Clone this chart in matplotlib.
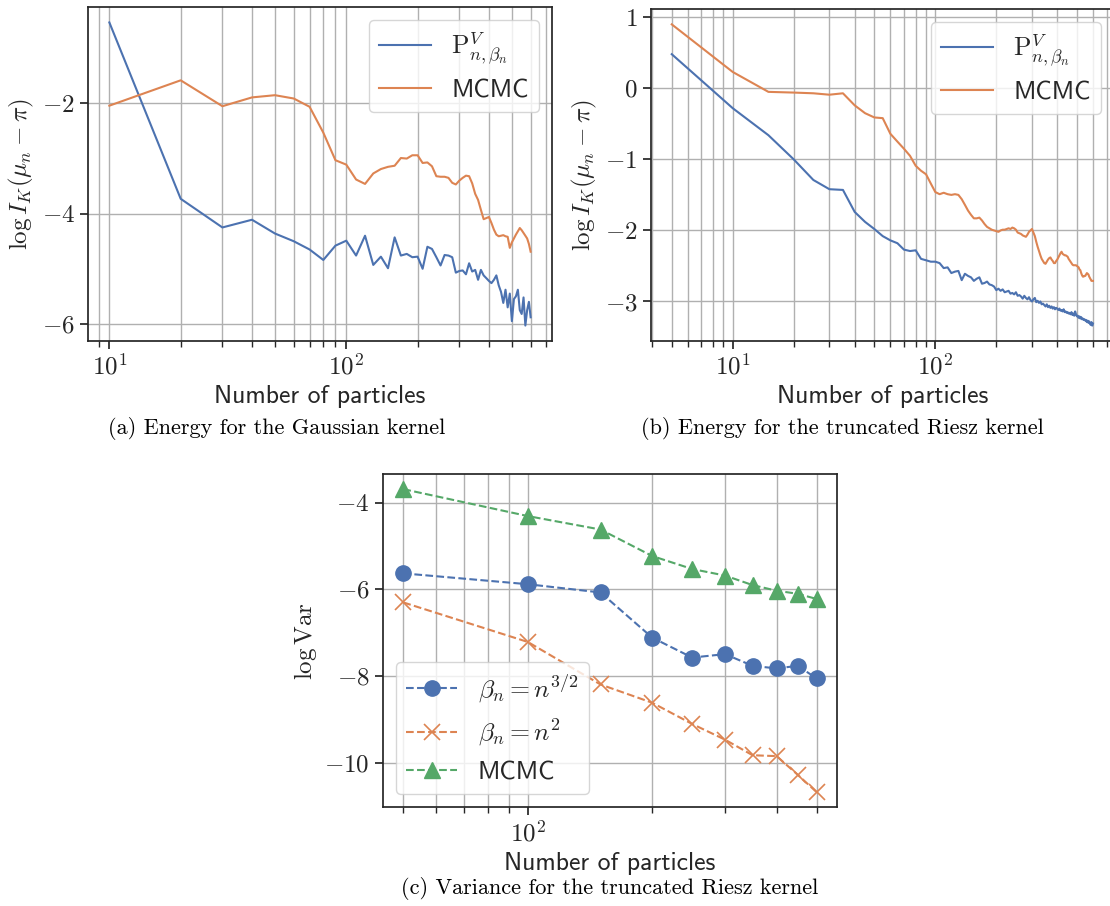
import matplotlib
matplotlib.use("Agg")
import matplotlib.pyplot as plt
from matplotlib.ticker import MultipleLocator, NullFormatter

# ---------------- data ----------------
# (a) Gaussian kernel
n_gauss = list(range(10, 601, 10))
gauss_pv = [-0.53, -3.73, -4.25, -4.11, -4.36, -4.50, -4.65, -4.84, -4.58, -4.49,
            -4.76, -4.40, -4.93, -4.78, -4.99, -4.43, -4.76, -4.73, -4.79, -4.78,
            -5.00, -4.60, -4.64, -4.79, -4.94, -4.75, -4.76, -4.79, -5.07, -5.04,
            -5.03, -5.10, -4.90, -5.05, -5.02, -5.20, -5.02, -5.12, -5.17, -5.22,
            -5.26, -5.20, -5.12, -5.30, -5.42, -5.62, -5.38, -5.70, -5.45, -5.95,
            -5.55, -5.50, -5.38, -5.75, -5.82, -5.52, -6.03, -5.75, -5.60, -5.88]
gauss_mcmc = [-2.04, -1.58, -2.05, -1.89, -1.85, -1.91, -2.06, -2.53, -3.03, -3.11,
              -3.38, -3.46, -3.27, -3.19, -3.15, -3.13, -2.99, -3.00, -2.94, -2.94,
              -3.08, -3.07, -3.14, -3.32, -3.33, -3.33, -3.35, -3.44, -3.47, -3.40,
              -3.35, -3.31, -3.32, -3.45, -3.64, -3.75, -3.93, -4.10, -4.08, -4.06,
              -4.17, -4.29, -4.38, -4.41, -4.40, -4.39, -4.41, -4.42, -4.62, -4.52,
              -4.45, -4.38, -4.32, -4.26, -4.30, -4.35, -4.40, -4.45, -4.55, -4.69]

# (b) truncated Riesz kernel
n_riesz = list(range(5, 601, 5))
riesz_pv = [0.48, -0.28, -0.66, -1.00, -1.29, -1.42, -1.43, -1.74, -1.88, -1.98,
            -2.08, -2.14, -2.18, -2.27, -2.29, -2.28, -2.40, -2.42, -2.44, -2.44,
            -2.46, -2.53, -2.52, -2.60, -2.58, -2.57, -2.70, -2.61, -2.64, -2.66,
            -2.71, -2.68, -2.66, -2.75, -2.74, -2.72, -2.76, -2.77, -2.79, -2.84,
            -2.82, -2.85, -2.83, -2.87, -2.86, -2.85, -2.89, -2.88, -2.90, -2.87,
            -2.92, -2.91, -2.93, -2.96, -2.92, -2.95, -2.97, -2.94, -2.98, -3.00,
            -2.97, -2.95, -3.01, -2.99, -3.02, -3.00, -3.04, -3.03, -3.05, -3.07,
            -3.04, -3.08, -3.06, -3.09, -3.07, -3.10, -3.08, -3.11, -3.09, -3.10,
            -3.12, -3.10, -3.13, -3.12, -3.14, -3.11, -3.15, -3.14, -3.16, -3.15,
            -3.17, -3.16, -3.18, -3.15, -3.19, -3.17, -3.20, -3.14, -3.18, -3.21,
            -3.20, -3.23, -3.21, -3.24, -3.22, -3.25, -3.24, -3.26, -3.25, -3.27,
            -3.26, -3.29, -3.27, -3.30, -3.28, -3.31, -3.33, -3.29, -3.34, -3.31]
riesz_mcmc = [0.90, 0.23, -0.05, -0.06, -0.07, -0.09, -0.07, -0.24, -0.35, -0.41,
              -0.42, -0.64, -0.75, -0.85, -0.95, -1.09, -1.16, -1.21, -1.34, -1.46,
              -1.49, -1.47, -1.49, -1.50, -1.49, -1.50, -1.56, -1.64, -1.72, -1.78,
              -1.83, -1.83, -1.82, -1.86, -1.91, -1.95, -1.97, -1.99, -2.00, -2.01,
              -2.02, -2.00, -1.99, -1.99, -1.98, -1.97, -1.98, -1.96, -1.97, -1.99,
              -2.03, -2.04, -2.05, -2.07, -2.08, -2.09, -2.06, -2.02, -2.00, -1.98,
              -2.03, -2.08, -2.16, -2.23, -2.29, -2.35, -2.40, -2.43, -2.46, -2.47,
              -2.44, -2.41, -2.39, -2.38, -2.41, -2.43, -2.46, -2.46, -2.43, -2.41,
              -2.38, -2.35, -2.32, -2.30, -2.33, -2.34, -2.35, -2.35, -2.36, -2.37,
              -2.40, -2.42, -2.44, -2.46, -2.48, -2.49, -2.49, -2.49, -2.49, -2.50,
              -2.51, -2.52, -2.55, -2.56, -2.60, -2.63, -2.65, -2.65, -2.64, -2.64,
              -2.62, -2.60, -2.61, -2.62, -2.65, -2.67, -2.69, -2.71, -2.71, -2.71]

# (c) variance for truncated Riesz kernel
n_var = [50, 100, 150, 200, 250, 300, 350, 400, 450, 500]
var_b32 = [-5.63, -5.88, -6.07, -7.11, -7.57, -7.49, -7.76, -7.82, -7.76, -8.05]
var_b2 = [-6.30, -7.21, -8.19, -8.61, -9.10, -9.46, -9.82, -9.84, -10.27, -10.67]
var_mcmc = [-3.69, -4.31, -4.62, -5.23, -5.53, -5.68, -5.90, -6.03, -6.10, -6.22]

labels_energy = [r"$\mathrm{P}^{V}_{n,\beta_n}$", "MCMC"]
labels_var = [r"$\beta_n = n^{3/2}$", r"$\beta_n = n^{2}$", "MCMC"]
captions = ["(a) Energy for the Gaussian kernel",
            "(b) Energy for the truncated Riesz kernel",
            "(c) Variance for the truncated Riesz kernel"]

# ---------------- style ----------------
plt.rcParams["mathtext.fontset"] = "cm"
plt.rcParams["font.family"] = ["cmr10", "DejaVu Sans"]
plt.rcParams["axes.formatter.use_mathtext"] = True
plt.rcParams["axes.unicode_minus"] = True

BLUE = "#4c72b0"
ORANGE = "#dd8452"
GREEN = "#55a868"
DARK = "#262626"
GRID = "#b0b0b0"
SANS = "cmss10"

W, H = 1110, 906
fig = plt.figure(figsize=(W / 100, H / 100), dpi=100)


def px_axes(l, t, r, b):
    return fig.add_axes([l / W, 1 - b / H, (r - l) / W, (b - t) / H])


def style(ax, ystep):
    ax.set_xscale("log")
    ax.xaxis.set_minor_formatter(NullFormatter())
    ax.yaxis.set_major_locator(MultipleLocator(ystep))
    ax.grid(True, which="both", axis="x", color=GRID, lw=1.0)
    ax.grid(True, which="major", axis="y", color=GRID, lw=1.0)
    ax.set_axisbelow(True)
    for s in ax.spines.values():
        s.set_linewidth(1.25)
        s.set_color(DARK)
    ax.tick_params(which="major", direction="out", length=6, width=1.25,
                   labelsize=18, colors=DARK)
    ax.tick_params(which="minor", direction="out", length=4, width=1.0, colors=DARK)
    ax.set_xlabel("Number of particles", family=SANS, fontsize=18.5, color=DARK)


def legend(ax, loc):
    leg = ax.legend(loc=loc, prop={"family": SANS, "size": 18.5})
    for t in leg.get_texts():
        t.set_color(DARK)
    return leg


# (a)
ax1 = px_axes(88.3, 7.3, 551.7, 340.7)
ax1.plot(n_gauss, gauss_pv, color=BLUE, lw=1.5, label=labels_energy[0])
ax1.plot(n_gauss, gauss_mcmc, color=ORANGE, lw=1.5, label=labels_energy[1])
style(ax1, 2)
ax1.set_ylabel(r"$\log I_K(\mu_n - \pi)$", fontsize=18, color=DARK)
legend(ax1, "upper right")

# (b)
ax2 = px_axes(650.7, 9.3, 1114, 340.7)
ax2.plot(n_riesz, riesz_pv, color=BLUE, lw=1.5, label=labels_energy[0])
ax2.plot(n_riesz, riesz_mcmc, color=ORANGE, lw=1.5, label=labels_energy[1])
style(ax2, 1)
ax2.set_ylabel(r"$\log I_K(\mu_n - \pi)$", fontsize=18, color=DARK)
legend(ax2, "upper right")

# (c)
ax3 = px_axes(382.7, 474, 837.3, 807.3)
ax3.plot(n_var, var_b32, ls="--", color=BLUE, lw=1.5, marker="o", ms=11,
         label=labels_var[0])
ax3.plot(n_var, var_b2, ls="--", color=ORANGE, lw=1.5, marker="x", ms=12,
         mew=1.2, label=labels_var[1])
ax3.plot(n_var, var_mcmc, ls="--", color=GREEN, lw=1.5, marker="^", ms=11,
         label=labels_var[2])
style(ax3, 2)
ax3.set_ylabel(r"$\log \mathrm{Var}$", fontsize=18, color=DARK)
legend(ax3, "lower left")

# captions
fig.text(277 / W, 1 - 428 / H, captions[0], ha="center", va="center",
         fontsize=16, family="cmr10", color="black")
fig.text(842.5 / W, 1 - 429 / H, captions[1], ha="center", va="center",
         fontsize=16, family="cmr10", color="black")
fig.text(610 / W, 1 - 888 / H, captions[2], ha="center", va="center",
         fontsize=16, family="cmr10", color="black")

fig.savefig("out.png", dpi=100)
